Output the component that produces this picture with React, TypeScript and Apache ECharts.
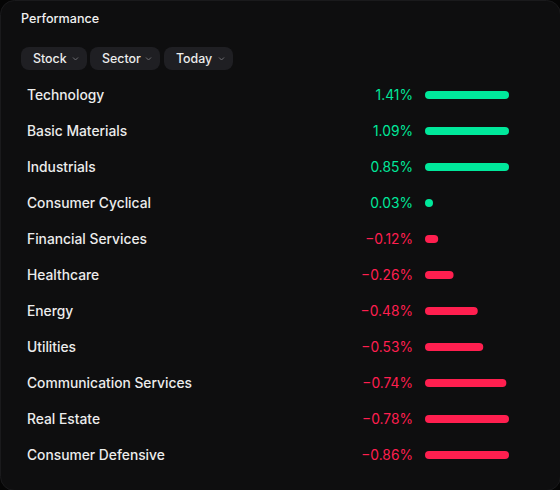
import React, { useEffect, useRef } from "react";
import * as echarts from "echarts";

const title = "Performance";
const filters = ["Stock", "Sector", "Today"];
const categories = [
  "Technology",
  "Basic Materials",
  "Industrials",
  "Consumer Cyclical",
  "Financial Services",
  "Healthcare",
  "Energy",
  "Utilities",
  "Communication Services",
  "Real Estate",
  "Consumer Defensive",
];
const values = [1.41, 1.09, 0.85, 0.03, -0.12, -0.26, -0.48, -0.53, -0.74, -0.78, -0.86];

const BAR_CAP = 0.764; // bars longer than this are drawn at full track length
const GREEN = "#00e89b";
const RED = "#ff1f4f";
const FONT = "Inter, 'Noto Sans', sans-serif";

const fmt = (v: number) => (v < 0 ? "\u2212" : "") + Math.abs(v).toFixed(2) + "%";

export default function App() {
  const ref = useRef<HTMLDivElement>(null);
  useEffect(() => {
    if (!ref.current) return;
    const chart = echarts.init(ref.current, null, { renderer: "svg" });

    const pillX = [21, 90, 164];
    const pillW = [66, 70, 69];
    const pills: any[] = filters.map((f, i) => ({
      type: "group",
      left: pillX[i],
      top: 47,
      children: [
        {
          type: "rect",
          shape: { x: 0, y: 0, width: pillW[i], height: 23, r: 8 },
          style: { fill: "#1f1f23" },
        },
        {
          type: "text",
          x: 12,
          y: 11,
          style: {
            text: f,
            fill: "#ececec",
            font: `500 12.4px ${FONT}`,
            textVerticalAlign: "middle",
            verticalAlign: "middle",
          },
        },
        {
          type: "polyline",
          shape: {
            points: [
              [pillW[i] - 14, 10.5],
              [pillW[i] - 11.5, 13],
              [pillW[i] - 9, 10.5],
            ],
          },
          style: { stroke: "#6f6f74", lineWidth: 1, fill: "none" },
        },
      ],
    }));

    chart.setOption({
      animation: false,
      backgroundColor: "#050505",
      graphic: [
        {
          type: "rect",
          left: 0,
          top: 0,
          z: -10,
          shape: { x: 0, y: 0, width: 560, height: 490, r: 14 },
          style: { fill: "#0e0e0f", stroke: "#1a1a1c", lineWidth: 1 },
        },
        {
          type: "text",
          left: 21,
          top: 12,
          style: { text: title, fill: "#f0f0f0", font: `500 12.6px ${FONT}` },
        },
        ...pills,
      ],
      grid: { left: 425, width: 84, top: 77, height: 396 },
      xAxis: { type: "value", min: 0, max: BAR_CAP, show: false },
      yAxis: {
        type: "category",
        data: categories,
        inverse: true,
        axisLine: { show: false },
        axisTick: { show: false },
        splitLine: { show: false },
        axisLabel: {
          margin: 398,
          align: "left",
          color: "#ececec",
          fontSize: 13.8,
          fontWeight: 500,
          fontFamily: FONT,
          padding: [0, 0, 2, 0],
        },
      },
      series: [
        {
          type: "bar",
          barWidth: 8,
          barMinHeight: 8,
          itemStyle: { borderRadius: 4 },
          label: {
            show: true,
            position: "left",
            distance: 12,
            fontSize: 13.8,
            fontFamily: FONT,
            padding: [0, 0, 2, 0],
          },
          data: values.map((v) => {
            const c = v >= 0 ? GREEN : RED;
            return {
              value: Math.min(Math.abs(v), BAR_CAP),
              itemStyle: { color: c, borderRadius: 4 },
              label: { formatter: fmt(v), color: c },
            };
          }),
        },
      ],
    });
    return () => chart.dispose();
  }, []);
  return (
    <div
      ref={ref}
      style={{ position: "fixed", left: 0, top: 0, width: 560, height: 490 }}
    />
  );
}
